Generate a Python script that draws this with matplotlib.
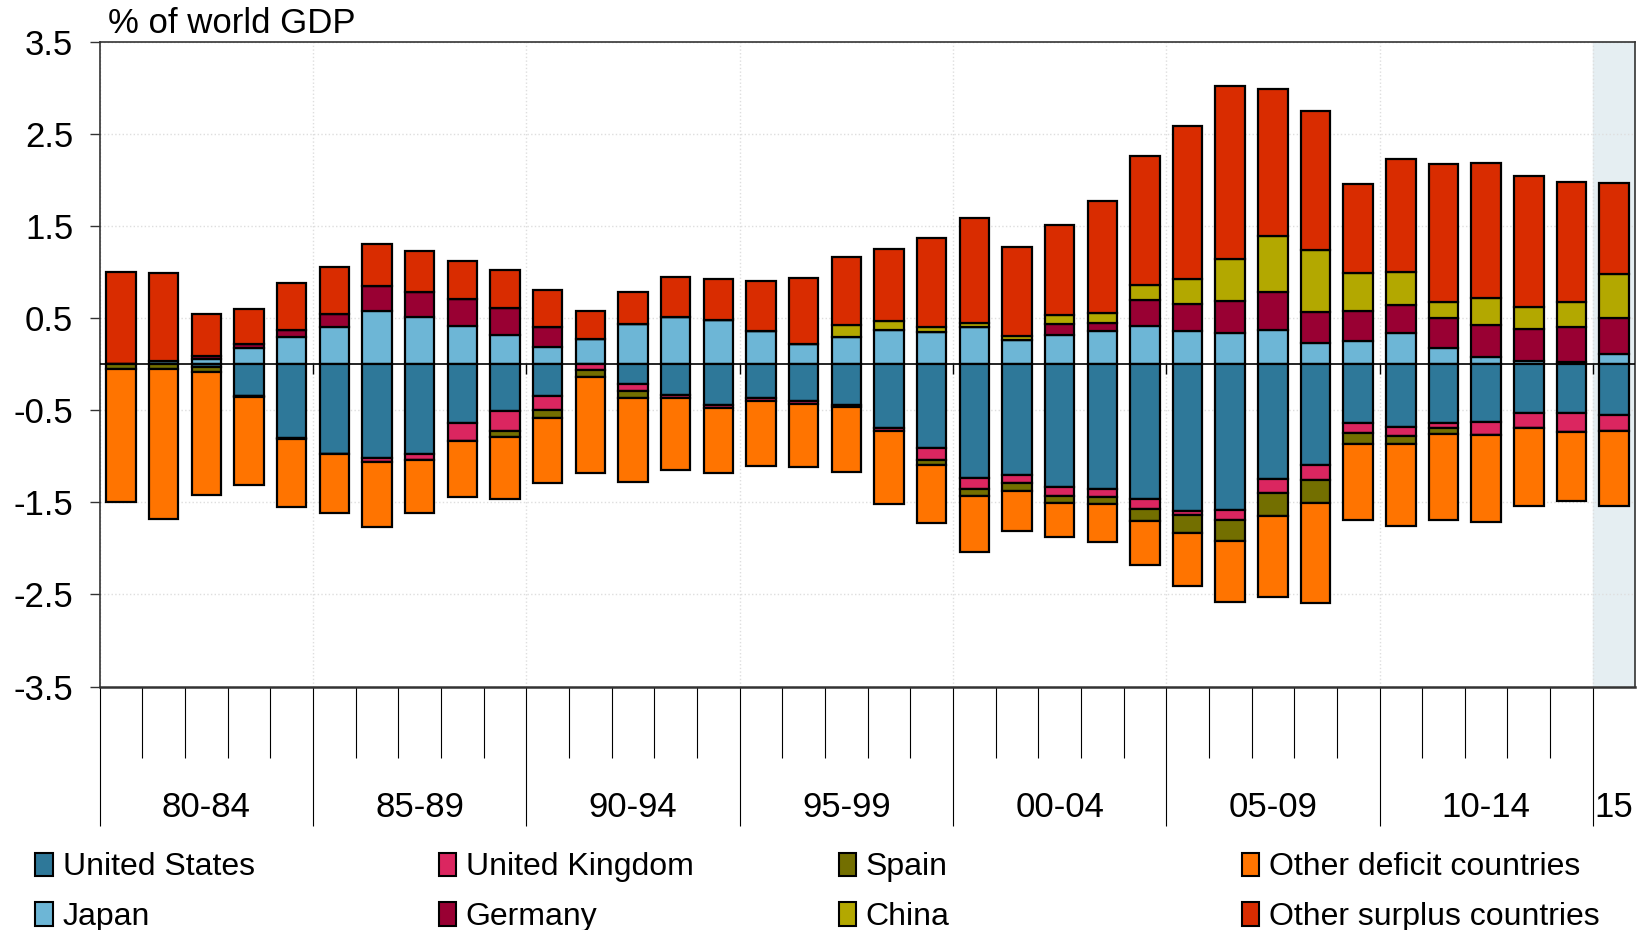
"""
Current account balances as % of world GDP, 1980-2015 (stacked bars)
"""

import matplotlib
matplotlib.use("Agg")
import matplotlib.pyplot as plt
import matplotlib.transforms as mtransforms
from matplotlib.patches import Patch

plt.rcParams["font.family"] = ["Liberation Sans", "DejaVu Sans"]

# --- data ----------------------------------------------------------------
years = list(range(1980, 2016))

group_labels = ["80-84", "85-89", "90-94", "95-99", "00-04", "05-09", "10-14", "15"]

# surplus side (stacked upward)
japan = [0.0, 0.04, 0.06, 0.18, 0.30, 0.41, 0.58, 0.51, 0.42, 0.32,
         0.19, 0.28, 0.44, 0.51, 0.48, 0.36, 0.22, 0.30, 0.37, 0.35,
         0.40, 0.26, 0.32, 0.36, 0.42, 0.36, 0.34, 0.37, 0.23, 0.25,
         0.34, 0.18, 0.08, 0.04, 0.03, 0.11]
germany = [0.0, 0.0, 0.03, 0.04, 0.07, 0.14, 0.27, 0.27, 0.29, 0.29,
           0.21, 0.0, 0.0, 0.0, 0.0, 0.0, 0.0, 0.0, 0.0, 0.0,
           0.0, 0.0, 0.12, 0.09, 0.28, 0.29, 0.35, 0.41, 0.34, 0.33,
           0.30, 0.32, 0.35, 0.34, 0.38, 0.39]
china = [0.0, 0.0, 0.0, 0.0, 0.0, 0.0, 0.0, 0.0, 0.0, 0.0,
         0.0, 0.0, 0.0, 0.0, 0.0, 0.0, 0.0, 0.13, 0.10, 0.06,
         0.05, 0.05, 0.10, 0.11, 0.16, 0.28, 0.45, 0.61, 0.67, 0.41,
         0.36, 0.18, 0.29, 0.24, 0.27, 0.48]
other_surplus = [1.00, 0.95, 0.46, 0.38, 0.51, 0.51, 0.46, 0.45, 0.41, 0.41,
                 0.41, 0.30, 0.35, 0.44, 0.45, 0.54, 0.72, 0.74, 0.78, 0.96,
                 1.14, 0.96, 0.97, 1.21, 1.40, 1.66, 1.88, 1.60, 1.51, 0.97,
                 1.23, 1.50, 1.47, 1.42, 1.30, 0.99]

# deficit side (stacked downward)
united_states = [0.0, 0.0, -0.03, -0.34, -0.80, -0.97, -1.02, -0.97, -0.64, -0.51,
                 -0.34, 0.0, -0.21, -0.33, -0.44, -0.37, -0.40, -0.44, -0.69, -0.91,
                 -1.23, -1.20, -1.33, -1.35, -1.46, -1.59, -1.58, -1.25, -1.09, -0.64,
                 -0.68, -0.64, -0.63, -0.53, -0.53, -0.55]
united_kingdom = [0.0, 0.0, 0.0, 0.0, -0.01, 0.0, -0.04, -0.07, -0.19, -0.21,
                  -0.16, -0.06, -0.08, -0.04, -0.03, -0.03, -0.03, -0.02, -0.04, -0.13,
                  -0.12, -0.09, -0.10, -0.09, -0.11, -0.05, -0.11, -0.15, -0.17, -0.11,
                  -0.10, -0.05, -0.14, -0.16, -0.21, -0.18]
spain = [-0.05, -0.05, -0.05, -0.02, 0.0, 0.0, 0.0, 0.0, 0.0, -0.065,
         -0.08, -0.08, -0.08, 0.0, 0.0, 0.0, 0.0, 0.0, 0.0, -0.05,
         -0.08, -0.09, -0.08, -0.08, -0.13, -0.19, -0.23, -0.25, -0.25, -0.12,
         -0.09, -0.07, 0.0, 0.0, 0.0, 0.0]
other_deficit = [-1.45, -1.63, -1.34, -0.95, -0.74, -0.64, -0.71, -0.58, -0.61, -0.68,
                 -0.71, -1.04, -0.91, -0.78, -0.71, -0.71, -0.69, -0.71, -0.79, -0.63,
                 -0.61, -0.43, -0.37, -0.41, -0.48, -0.58, -0.66, -0.88, -1.08, -0.82,
                 -0.89, -0.93, -0.94, -0.85, -0.75, -0.81]

# --- styling --------------------------------------------------------------
COLORS = {
    "United States": "#2e7899",
    "Japan": "#6db6d6",
    "United Kingdom": "#db2660",
    "Germany": "#990033",
    "Spain": "#736f00",
    "China": "#b3a800",
    "Other deficit countries": "#ff7400",
    "Other surplus countries": "#d92c00",
}
FS = 25          # axis text
FS_LEGEND = 23
BAR_W = 0.69


def stack(ax, x, series_list, names):
    """Stack a list of series from zero outward"""
    base = [0.0] * len(x)
    for vals, name in zip(series_list, names):
        ax.bar(x, vals, BAR_W, bottom=base, color=COLORS[name],
               edgecolor="black", linewidth=1.6, zorder=3)
        base = [b + v for b, v in zip(base, vals)]


fig = plt.figure(figsize=(16.46, 9.3), dpi=100)
ax = fig.add_axes([0.0606, 0.2618, 0.933, 0.693])

x = list(range(len(years)))
n = len(years)

stack(ax, x, [japan, germany, china, other_surplus],
      ["Japan", "Germany", "China", "Other surplus countries"])
stack(ax, x, [united_states, united_kingdom, spain, other_deficit],
      ["United States", "United Kingdom", "Spain", "Other deficit countries"])

# shaded latest year
ax.axvspan(n - 1.5, n - 0.5, color="#e5eef2", zorder=0)

ax.axhline(0, color="black", linewidth=1.2, zorder=4)

ax.set_xlim(-0.5, n - 0.5)
ax.set_ylim(-3.5, 3.5)

yticks = [3.5, 2.5, 1.5, 0.5, -0.5, -1.5, -2.5, -3.5]
ax.set_yticks(yticks)
ax.set_yticklabels([f"{v:.1f}" for v in yticks], fontsize=FS)
ax.tick_params(axis="y", length=7, width=1, pad=12, color="#333333")

# x axis: long ticks at group boundaries, shorter ones between years
group_edges = [i - 0.5 for i in range(0, n, 5)]
year_edges = [i - 0.5 for i in range(1, n) if (i % 5) != 0]
ax.set_xticks(group_edges)
ax.set_xticks(year_edges, minor=True)
ax.set_xticklabels([])
ax.tick_params(axis="x", which="major", length=100, width=0.8, color="black",
               direction="out")
ax.tick_params(axis="x", which="minor", length=51, width=0.8, color="black",
               direction="out")

# small marks on the zero line at group boundaries
ax.vlines(group_edges[1:], -0.11, 0, color="black", linewidth=1, zorder=4)

ax.grid(axis="y", color="#dedede", linestyle=":", linewidth=1, zorder=0)
ax.grid(axis="x", which="major", color="#dedede", linestyle=":",
        linewidth=1, zorder=0)

for side in ["top", "right", "left", "bottom"]:
    ax.spines[side].set_color("#333333")
    ax.spines[side].set_linewidth(1.2)
ax.spines["bottom"].set_linewidth(1.8)

# group labels under the axis
trans = mtransforms.blended_transform_factory(ax.transData, ax.transAxes)
for gi, label in enumerate(group_labels):
    members = x[gi * 5:(gi + 1) * 5]
    centre = (members[0] + members[-1]) / 2
    ax.text(centre, -0.188, label, transform=trans, ha="center", va="center",
            fontsize=FS)

fig.text(0.0655, 0.975, "% of world GDP", ha="left", va="center", fontsize=FS)

# legend: four columns of two entries
legend_cols = [
    ["United States", "Japan"],
    ["United Kingdom", "Germany"],
    ["Spain", "China"],
    ["Other deficit countries", "Other surplus countries"],
]
col_x = [0.0215, 0.2665, 0.5095, 0.7545]
for names, lx in zip(legend_cols, col_x):
    handles = [Patch(facecolor=COLORS[nm], edgecolor="black", linewidth=1.5)
               for nm in names]
    fig.legend(handles, names, loc="center left", bbox_to_anchor=(lx, 0.0405),
               frameon=False, fontsize=FS_LEGEND, handlelength=0.55,
               handleheight=0.75, handletextpad=0.3, labelspacing=0.62,
               borderpad=0, borderaxespad=0)

fig.savefig("out.png", dpi=100)
